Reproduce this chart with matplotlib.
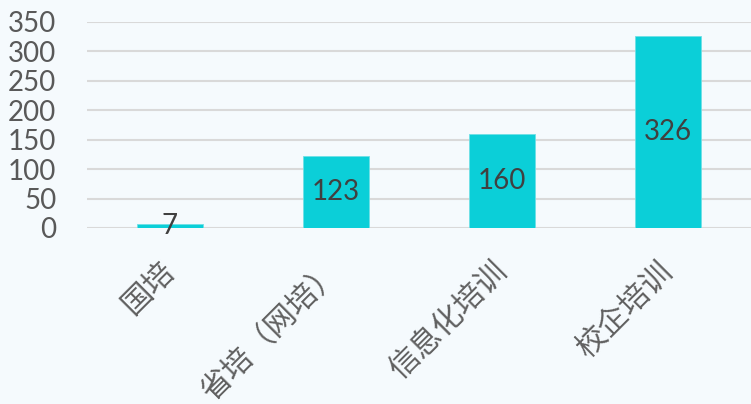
import matplotlib
matplotlib.use("Agg")
import matplotlib.pyplot as plt

categories = ["国培", "省培（网培）", "信息化培训", "校企培训"]
values = [7, 123, 160, 326]
y_ticks = [0, 50, 100, 150, 200, 250, 300, 350]

bg = "#F5FAFD"
bar_color = "#0BCFD8"
grid_color = "#D9D9D9"

fig = plt.figure(figsize=(7.51, 4.04), dpi=100, facecolor=bg)
ax = fig.add_axes([87 / 751, (404 - 228) / 404, 1 - 87 / 751, (228 - 22) / 404])
ax.set_facecolor(bg)

x = list(range(len(categories)))
bars = ax.bar(x, values, width=0.4, color=bar_color, edgecolor="#6FE0E6",
              linewidth=0.6, zorder=3)

ax.set_xlim(-0.5, len(categories) - 0.5)
ax.set_ylim(0, 350)
ax.set_yticks(y_ticks)
ax.set_yticklabels([str(v) for v in y_ticks], fontfamily="Lato",
                   fontsize=20, color="#595959")
ax.tick_params(axis="y", length=0, pad=22)

ax.set_xticks(x)
ax.set_xticklabels(categories, rotation=45, ha="right", va="center",
                   rotation_mode="anchor", fontfamily="Noto Sans CJK SC",
                   fontsize=22, color="#606060", fontweight="light")
ax.tick_params(axis="x", length=0, pad=28)

ax.grid(axis="y", color=grid_color, linewidth=1.5, zorder=0)
for s in ax.spines.values():
    s.set_visible(False)

ax.bar_label(bars, labels=[str(v) for v in values], label_type="center",
             fontfamily="Lato", fontsize=20, color="#404040", zorder=4)

fig.savefig("out.png", dpi=100, facecolor=bg)
